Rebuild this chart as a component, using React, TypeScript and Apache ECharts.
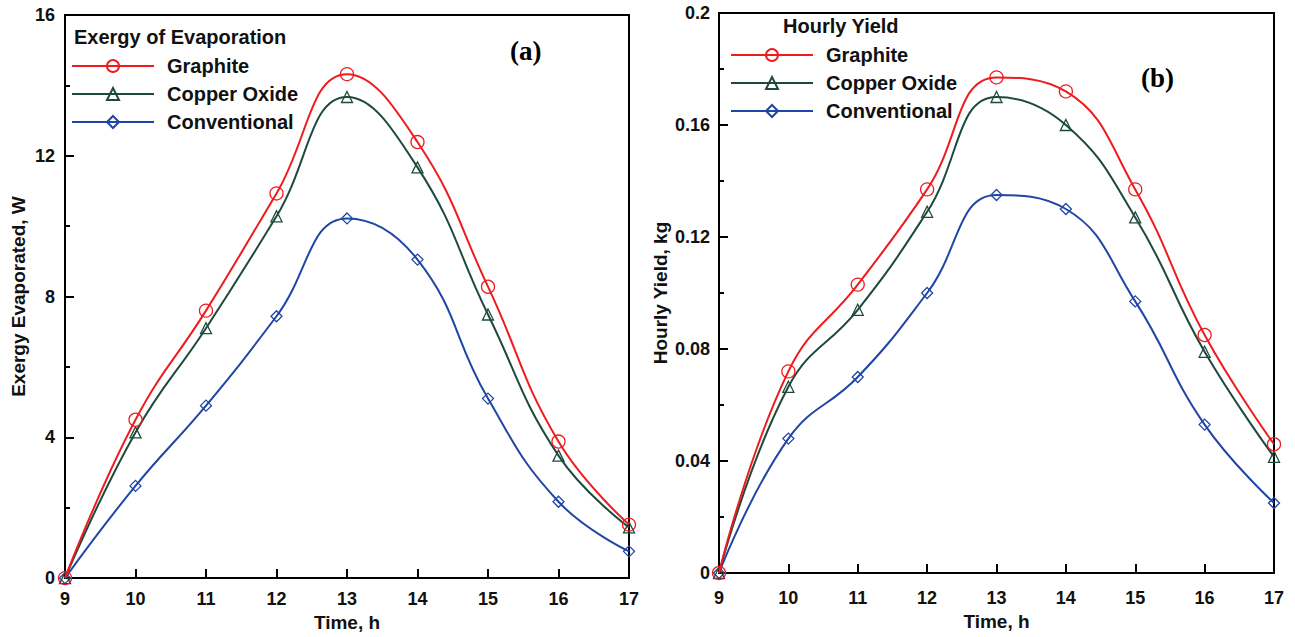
import React, { useEffect, useRef } from "react";
import * as echarts from "echarts";

const hours = [9, 10, 11, 12, 13, 14, 15, 16, 17];
const seriesNames = ["Graphite", "Copper Oxide", "Conventional"];

const exergyGraphite = [0, 4.5, 7.6, 10.93, 14.32, 12.39, 8.28, 3.88, 1.52];
const exergyCopper = [0, 4.14, 7.1, 10.28, 13.67, 11.67, 7.49, 3.48, 1.44];
const exergyConventional = [0, 2.62, 4.9, 7.44, 10.22, 9.05, 5.1, 2.17, 0.76];

const yieldGraphite = [0, 0.072, 0.103, 0.137, 0.177, 0.172, 0.137, 0.085, 0.046];
const yieldCopper = [0, 0.0665, 0.094, 0.129, 0.17, 0.16, 0.127, 0.079, 0.0415];
const yieldConventional = [0, 0.048, 0.07, 0.1, 0.135, 0.13, 0.097, 0.053, 0.025];

const colors = ["#ee1b1f", "#1d4a3c", "#1f46a6"];
const symbols = ["circle", "triangle", "diamond"];
const symbolSizes = [13, 11, 11];

const FONT = "Liberation Sans, Arial, sans-serif";

export default function App() {
  const ref = useRef<HTMLDivElement>(null);
  useEffect(() => {
    if (!ref.current) return;
    const chart = echarts.init(ref.current, null, { renderer: "svg" });

    const makeSeries = (data: number[], i: number, idx: number) => ({
      name: seriesNames[i],
      type: "line",
      xAxisIndex: idx,
      yAxisIndex: idx,
      smooth: 0.45,
      data: hours.map((h, k) => [h, data[k]]),
      symbol: symbols[i],
      symbolSize: symbolSizes[i],
      lineStyle: { color: colors[i], width: 2 },
      itemStyle: { color: "rgba(255,255,255,0)", borderColor: colors[i], borderWidth: 1.3 },
      z: 10 - i,
    });

    const labelStyle = (margin: number) => ({
      fontFamily: FONT,
      fontWeight: "bold",
      fontSize: 18,
      color: "#111",
      margin,
    });

    const xAxisBase = (gridIndex: number, nameGap: number, margin: number) => ({
      type: "value",
      gridIndex,
      min: 9,
      max: 17,
      interval: 1,
      name: "Time, h",
      nameLocation: "middle",
      nameGap,
      nameTextStyle: { fontFamily: FONT, fontWeight: "bold", fontSize: 19, color: "#111" },
      axisLine: { show: true, lineStyle: { color: "#000", width: 2 } },
      axisTick: { show: true, inside: true, length: 9, lineStyle: { color: "#000", width: 2 } },
      axisLabel: labelStyle(margin),
      splitLine: { show: false },
    });

    const yAxisBase = (gridIndex: number, max: number, interval: number, name: string, nameGap: number, margin: number) => ({
      type: "value",
      gridIndex,
      min: 0,
      max,
      interval,
      name,
      nameLocation: "middle",
      nameGap,
      nameTextStyle: { fontFamily: FONT, fontWeight: "bold", fontSize: 19, color: "#111" },
      axisLine: { show: true, lineStyle: { color: "#000", width: 2 } },
      axisTick: { show: true, inside: true, length: 9, lineStyle: { color: "#000", width: 2 } },
      minorTick: { show: true, splitNumber: 2, length: 5, lineStyle: { color: "#000", width: 2 } },
      axisLabel: labelStyle(margin),
      splitLine: { show: false },
      minorSplitLine: { show: false },
    });

    const legendBase = (left: number, top: number) => ({
      orient: "vertical",
      left,
      top,
      itemWidth: 82,
      itemHeight: 15,
      itemGap: 8,
      padding: 0,
      data: seriesNames,
      textStyle: { fontFamily: FONT, fontWeight: "bold", fontSize: 20, color: "#111", padding: [0, 0, 0, 8] },
      selectedMode: false,
    });

    chart.setOption({
      animation: false,
      backgroundColor: "#fff",
      grid: [
        { left: 65, right: 666, top: 15, bottom: 55, show: true, borderColor: "#000", borderWidth: 2, backgroundColor: "transparent" },
        { left: 719, right: 21, top: 13, bottom: 64, show: true, borderColor: "#000", borderWidth: 2, backgroundColor: "transparent" },
      ],
      xAxis: [xAxisBase(0, 32, 12), xAxisBase(1, 39, 16)],
      yAxis: [
        yAxisBase(0, 16, 4, "Exergy Evaporated, W", 37, 10),
        yAxisBase(1, 0.2, 0.04, "Hourly Yield, kg", 49, 9),
      ],
      legend: [legendBase(71, 56), legendBase(730, 45)],
      graphic: [
        { type: "text", left: 74, top: 27, style: { text: "Exergy of Evaporation", font: `bold 20px ${FONT}`, fill: "#111" } },
        { type: "text", left: 783, top: 16, style: { text: "Hourly Yield", font: `bold 20px ${FONT}`, fill: "#111" } },
        { type: "text", left: 510, top: 37, style: { text: "(a)", font: "bold 27px Liberation Serif, Times New Roman, serif", fill: "#000" } },
        { type: "text", left: 1141, top: 64, style: { text: "(b)", font: "bold 27px Liberation Serif, Times New Roman, serif", fill: "#000" } },
      ],
      series: [
        makeSeries(exergyGraphite, 0, 0),
        makeSeries(exergyCopper, 1, 0),
        makeSeries(exergyConventional, 2, 0),
        makeSeries(yieldGraphite, 0, 1),
        makeSeries(yieldCopper, 1, 1),
        makeSeries(yieldConventional, 2, 1),
      ],
    });
    return () => chart.dispose();
  }, []);
  return (
    <div
      ref={ref}
      style={{ position: "absolute", left: 0, top: 0, width: 1295, height: 637 }}
    />
  );
}
